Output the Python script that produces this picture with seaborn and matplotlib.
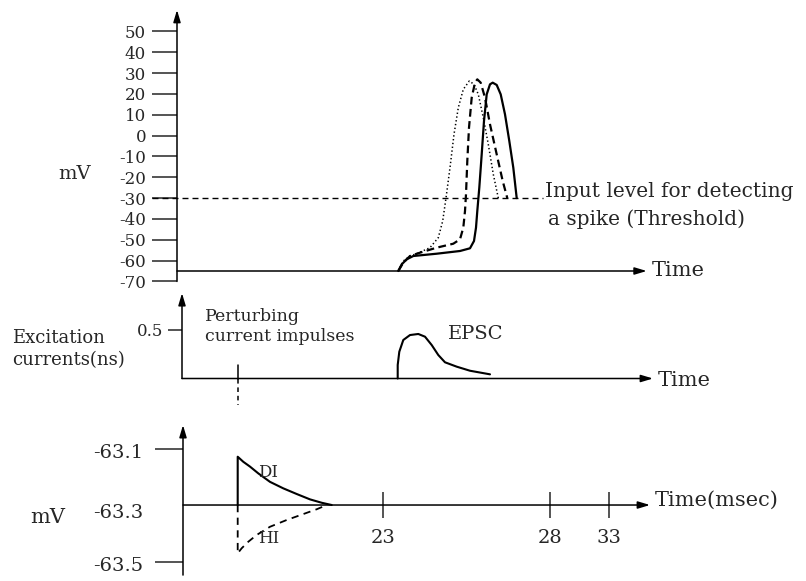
import matplotlib
matplotlib.use("Agg")
import matplotlib.pyplot as plt
import matplotlib.transforms as mtransforms
import seaborn as sns

# ---------------- data (schematic time units, shared horizontal axis) ----------------
# top panel: membrane potential (mV) of three spikes
solid_t = [21.83, 22.17, 22.67, 23.33, 25.67, 28.0, 29.0, 29.4, 29.6, 29.73, 29.93, 30.17,
           30.4, 30.67, 31.0, 31.27, 31.67, 32.07, 32.5, 32.93, 33.33, 33.67]
solid_v = [-65, -61.8, -59.4, -57.8, -56.7, -55.4, -54.1, -50.6, -44.2, -36.2, -25.0, -9.0,
           7.0, 19.8, 24.6, 25.4, 24.3, 19.8, 10.2, -2.6, -15.4, -30]
dashed_t = [21.83, 22.33, 23.0, 24.0, 25.67, 27.33, 28.0, 28.33, 28.5, 28.6, 28.73, 28.9,
            29.17, 29.5, 29.73, 30.07, 30.5, 31.0, 31.67, 32.27, 32.73]
dashed_v = [-65, -61.0, -57.8, -56.2, -53.8, -51.9, -49.8, -44.2, -36.2, -28.2, -12.2, 3.8,
            18.2, 25.4, 27.0, 25.4, 18.2, 5.4, -9.0, -21.8, -30]
dotted_t = [21.83, 22.33, 23.0, 23.67, 25.0, 25.83, 26.27, 26.6, 27.0, 27.4, 27.83, 28.33,
            28.93, 29.4, 29.83, 30.33, 30.83, 31.33, 31.83]
dotted_v = [-65, -60.2, -57.8, -56.7, -53.8, -49.0, -41.0, -30.0, -15.4, 0.6, 13.4, 22.2,
            26.2, 24.6, 19.8, 8.6, -4.2, -18.6, -30]
rest_mv = -65
threshold_mv = -30
threshold_t = [-2.8, 36.3]
top_ticks = [50, 40, 30, 20, 10, 0, -10, -20, -30, -40, -50, -60, -70]

# middle panel: excitation currents (ns)
epsc_t = [21.77, 21.77, 21.93, 22.33, 23.0, 23.83, 24.5, 25.17, 25.83, 26.5, 27.67, 29.0, 31.0]
epsc_v = [0, 0.139, 0.276, 0.397, 0.448, 0.459, 0.431, 0.345, 0.242, 0.167, 0.122, 0.080, 0.043]
impulse_t = 5.77
impulse_top = 0.14
impulse_bottom = -0.27
mid_ticks = [0.5]

# bottom panel: perturbation of potential (mV)
base_mv = -63.3
di_t = [5.77, 5.77, 6.33, 7.0, 7.83, 9.0, 10.33, 11.67, 13.0, 14.17, 15.17]
di_v = [-63.300, -63.129, -63.147, -63.164, -63.188, -63.218, -63.241, -63.261, -63.280,
        -63.292, -63.300]
hi_t = [5.77, 5.77, 6.17, 6.83, 7.67, 9.0, 10.67, 12.33, 13.67, 14.67]
hi_v = [-63.300, -63.471, -63.453, -63.430, -63.406, -63.377, -63.353, -63.332, -63.315, -63.300]
bot_yticks = [-63.1, -63.3, -63.5]
time_tick_pos = [20.33, 37.0, 42.9]
time_tick_labels = ["23", "28", "33"]

# ---------------- style ----------------
sns.set_style("ticks")
plt.rcParams["font.family"] = ["DejaVu Serif"]
plt.rcParams["axes.linewidth"] = 1.1

W, H = 806, 581
fig = plt.figure(figsize=(W / 100, H / 100), dpi=100)
XLIM = (-18.0, 62.6)


def add_ax(top_px, bot_px, ylim):
    ax = fig.add_axes([0, 1 - bot_px / H, 1, (bot_px - top_px) / H])
    ax.set_xlim(*XLIM)
    ax.set_ylim(*ylim)
    ax.patch.set_alpha(0)
    for s in ax.spines.values():
        s.set_visible(False)
    ax.set_xticks([])
    return ax


def arrow(ax, x0, y0, x1, y1):
    ax.annotate("", xy=(x1, y1), xytext=(x0, y0), annotation_clip=False,
                arrowprops=dict(arrowstyle="-|>,head_length=0.6,head_width=0.18", lw=1.1,
                                color="k", shrinkA=0, shrinkB=0, mutation_scale=12))


def line(ax, x, y, lw=1.5, dashes=None):
    sns.lineplot(x=x, y=y, ax=ax, color="k", lw=lw, estimator=None, sort=False)
    ln = ax.lines[-1]
    if dashes is not None:
        ln.set_dashes(dashes)
    ln.set_clip_on(False)
    return ln


# ---------------- top panel ----------------
ax1 = add_ax(0, 290, (-74.12, 65.08))
ax1.spines["left"].set_position(("data", -0.3))
arrow(ax1, -0.3, -70, -0.3, 60.3)
arrow(ax1, -0.3, rest_mv, 46.67, rest_mv)
ax1.set_yticks(top_ticks)
ax1.set_yticklabels([str(t) for t in top_ticks])
ax1.tick_params(axis="y", direction="out", length=18, width=1.1, pad=4.3, labelsize=12)
line(ax1, threshold_t, [threshold_mv, threshold_mv], lw=1.0, dashes=[4.3, 2.9])
line(ax1, dotted_t, dotted_v, lw=1.1, dashes=[0.9, 1.6])
line(ax1, dashed_t, dashed_v, lw=1.6, dashes=[3.5, 2.0])
line(ax1, solid_t, solid_v, lw=1.6)
ax1.text(-12.2, -20.8, "mV", fontsize=14, va="baseline", ha="left")
ax1.text(36.5, -29.3, "Input level for detecting", fontsize=14.5, va="baseline")
ax1.text(36.8, -42.9, "a spike (Threshold)", fontsize=14.5, va="baseline")
ax1.text(47.2, -67.4, "Time", fontsize=15, va="baseline")

# ---------------- middle panel ----------------
ax2 = add_ax(290, 420, ((378.5 - 420) / 97, (378.5 - 290) / 97))
ax2.spines["left"].set_position(("data", 0.2))
arrow(ax2, 0.2, 0, 0.2, 0.88)
arrow(ax2, 0.2, 0, 47.3, 0)
ax2.set_yticks(mid_ticks)
ax2.set_yticklabels(["0.5"])
ax2.tick_params(axis="y", direction="out", length=10, width=1.1, pad=3.6, labelsize=12)
line(ax2, epsc_t, epsc_v, lw=1.5)
line(ax2, [impulse_t, impulse_t], [0, impulse_top], lw=1.1)
line(ax2, [impulse_t, impulse_t], [0, impulse_bottom], lw=1.1, dashes=[3, 2.5])
ax2.text(2.5, 0.593, "Perturbing", fontsize=12.5, va="baseline")
ax2.text(2.5, 0.387, "current impulses", fontsize=12.5, va="baseline")
ax2.text(26.8, 0.407, "EPSC", fontsize=14, va="baseline")
ax2.text(-16.8, 0.363, "Excitation", fontsize=13, va="baseline")
ax2.text(-16.8, 0.139, "currents(ns)", fontsize=13, va="baseline")
ax2.text(47.8, -0.082, "Time", fontsize=15, va="baseline")

# ---------------- bottom panel ----------------
ax3 = add_ax(420, 581, (-63.569, -62.999))
ax3.spines["left"].set_position(("data", 0.3))
ax3.spines["bottom"].set_position(("data", base_mv))
arrow(ax3, 0.3, -63.548, 0.3, -63.017)
arrow(ax3, 0.3, base_mv, 47.0, base_mv)
ax3.set_yticks(bot_yticks)
ax3.set_yticklabels([f"{v:.1f}" for v in bot_yticks])
ax3.tick_params(axis="y", direction="out", length=20, width=1.1, pad=8.6, labelsize=14)
for tk, v in zip(ax3.yaxis.get_major_ticks(), bot_yticks):
    shift = -6 if v == base_mv else -2.5
    tk.label1.set_transform(tk.label1.get_transform()
                            + mtransforms.ScaledTranslation(0, shift / 100, fig.dpi_scale_trans))
    if v == base_mv:
        tk.tick1line.set_visible(False)
ax3.set_xticks(time_tick_pos)
ax3.set_xticklabels(time_tick_labels)
ax3.tick_params(axis="x", direction="inout", length=19, width=1.1, pad=8, labelsize=14)
line(ax3, di_t, di_v, lw=1.5)
line(ax3, hi_t, hi_v, lw=1.3, dashes=[4, 3])
ax3.text(7.8, -63.202, "DI", fontsize=12, va="baseline")
ax3.text(7.8, -63.436, "HI", fontsize=12, va="baseline")
ax3.text(-15.0, -63.364, "mV", fontsize=15, va="baseline")
ax3.text(47.5, -63.3035, "Time(msec)", fontsize=15, va="baseline")

fig.savefig("out.png", dpi=100)
